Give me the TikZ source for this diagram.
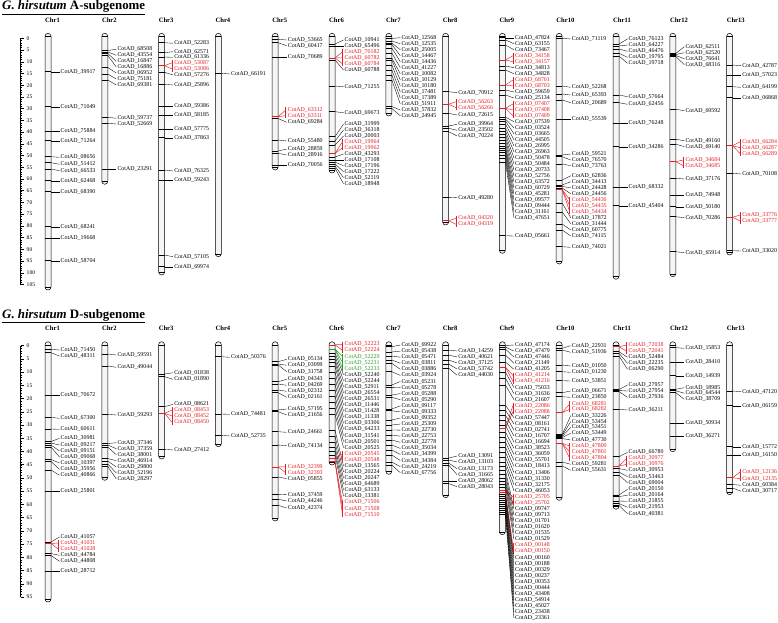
\documentclass[tikz,border=0pt]{standalone}
\usepackage{fontspec}
\setmainfont{Liberation Serif}
\definecolor{rd}{RGB}{228,30,36}
\definecolor{gn}{RGB}{40,160,40}
\tikzset{
 lbl/.style={anchor=west,inner sep=0pt,font=\fontsize{5.9}{6}\selectfont},
 gtick/.style={line width=0.5pt},
 conn/.style={line width=0.35pt},
 barst/.style={draw=black,fill=gray!8,line width=0.5pt,rounded corners=3pt},
 chrlbl/.style={anchor=west,inner sep=0pt,font=\fontsize{6.6}{7}\selectfont\bfseries},
 num/.style={anchor=west,inner sep=0pt,font=\fontsize{5.6}{6}\selectfont},
 ttl/.style={anchor=base west,inner sep=0pt,font=\fontsize{12.9}{15}\selectfont},
}
\newcommand\pfx{A}
% gene: cx, pos, label y, id
\newcommand\gene[4]{%
 \draw[gtick] (#1-3,#2) -- (#1+3,#2);
 \node[lbl] (n\pfx#4) at (#1+12.5,#3) {CotAD\_#4};
 \draw[conn] (#1+3,#2) -- ([xshift=-1pt]n\pfx#4.west);
}
% cluster: cx, pos, colour, first y, last y, list y/id
\newcommand\clus[6]{%
 \draw[gtick,#3] (#1-3,#2) -- (#1+3,#2);
 \draw[#3,line width=0.5pt] (#1+10.5,#4-2.6) -- (#1+10.5,#5+2.6);
 \foreach \ly/\id in {#6} {
   \node[lbl,text=#3] (n\pfx\id) at (#1+12.5,\ly) {CotAD\_\id};
   \draw[#3,line width=0.45pt] (#1+3,#2) -- ([xshift=-2pt]n\pfx\id.west);
 }
}
% chromosome: name, cx, top, bottom, label y
\newcommand\chrom[5]{%
 \draw[barst] (#2-3,#3) rectangle (#2+3,#4);
 \draw[line width=0.4pt] (#2-3,#3+3) -- (#2+3,#3+3);
 \draw[line width=0.4pt] (#2-3,#4-3) -- (#2+3,#4-3);
 \node[chrlbl] (\pfx#1) at (#2-3,#5) {#1};
}
\begin{document}
\begin{tikzpicture}[x=1pt,y=-1pt]
\useasboundingbox (0,0) rectangle (778,622);
\fill[white] (0,0) rectangle (778,622);

%================ A subgenome =================
\renewcommand\pfx{A}
\node[ttl] (titleA) at (2,9.6) {\underline{\textbf{\textit{G. hirsutum}} \textbf{A-subgenome}}};
\draw[line width=0.5pt] (20.5,38.3) -- (20.5,{38.3+2.345*105});
\foreach \v in {0,...,105} {\draw[line width=0.4pt] (20.5,{38.3+2.345*\v}) -- ++(1.7,0);}
\foreach \v in {0,5,...,105} {\draw[line width=0.5pt] (20.5,{38.3+2.345*\v}) -- ++(3.5,0);
  \node[num] (sA\v) at (26.5,{38.3+2.345*\v}) {\v};}

\chrom{Chr1}{48}{33.3}{290}{20.7}
\chrom{Chr2}{104.8}{33.3}{184.3}{20.7}
\chrom{Chr3}{161.6}{33.3}{275}{20.7}
\chrom{Chr4}{218.4}{33.3}{256.7}{20.7}
\chrom{Chr5}{275.2}{33.3}{170}{20.7}
\chrom{Chr6}{332}{33.3}{173}{20.7}
\chrom{Chr7}{388.8}{33.3}{116}{20.7}
\chrom{Chr8}{445.6}{33.3}{225}{20.7}
\chrom{Chr9}{502.4}{33.3}{253.3}{20.7}
\chrom{Chr10}{559.2}{33.3}{264}{20.7}
\chrom{Chr11}{616}{33.3}{279.3}{20.7}
\chrom{Chr12}{672.8}{33.3}{276.7}{20.7}
\chrom{Chr13}{729.6}{33.3}{255}{20.7}

% Chr1
\gene{48}{71.7}{71.7}{39917}
\gene{48}{106.7}{106.7}{71049}
\gene{48}{131}{131}{75884}
\gene{48}{140.7}{140.7}{71264}
\gene{48}{156.7}{157.3}{08656}
\gene{48}{162.7}{164.3}{51412}
\gene{48}{169}{170.7}{66533}
\gene{48}{180.7}{180.7}{62468}
\gene{48}{191.7}{191.7}{68390}
\gene{48}{226.7}{226.7}{68241}
\gene{48}{238.3}{238.3}{19668}
\gene{48}{260.7}{260.7}{58704}
% Chr2
\gene{104.8}{50.5}{49.3}{68508}
\gene{104.8}{52}{55.3}{43554}
\gene{104.8}{53.5}{61.3}{16847}
\gene{104.8}{55.5}{67}{16886}
\gene{104.8}{67.5}{73}{06952}
\gene{104.8}{74}{79}{75181}
\gene{104.8}{80}{85}{69381}
\gene{104.8}{117.3}{118.3}{59737}
\gene{104.8}{123.3}{124}{52669}
\gene{104.8}{169.3}{169.3}{23291}
% Chr3
\gene{161.6}{42.7}{43.3}{52283}
\gene{161.6}{52.7}{51.7}{62571}
\gene{161.6}{57}{57.3}{61336}
\clus{161.6}{65.7}{rd}{62.7}{69}{62.7/53087,69/53086}
\gene{161.6}{72.3}{75}{57276}
\gene{161.6}{84.3}{85}{25896}
\gene{161.6}{106}{106}{59386}
\gene{161.6}{115}{115}{58185}
\gene{161.6}{129.3}{129.3}{57775}
\gene{161.6}{137.7}{137.7}{37863}
\gene{161.6}{170}{171}{76325}
\gene{161.6}{180}{180}{59243}
\gene{161.6}{255}{256.7}{57105}
\gene{161.6}{266.7}{266.7}{69974}
% Chr4
\gene{218.4}{73.3}{74}{66191}
% Chr5
\gene{275.2}{39.3}{40}{53665}
\gene{275.2}{42.7}{45.7}{60417}
\gene{275.2}{57.3}{57.3}{70689}
\clus{275.2}{116.7}{rd}{110}{115.7}{110/63312,115.7/63311}
\gene{275.2}{118.5}{122.3}{69284}
\gene{275.2}{140}{141}{55480}
\gene{275.2}{151}{149}{28859}
\gene{275.2}{153.3}{155}{28916}
\gene{275.2}{165}{165}{70056}
% Chr6
\gene{332}{44}{40}{10941}
\gene{332}{46}{46}{65496}
\clus{332}{58}{rd}{51.7}{63.7}{51.7/70182,57.7/60782,63.7/60784}
\gene{332}{60}{70}{60788}
\gene{332}{86}{86.7}{71255}
\gene{332}{111.7}{112.7}{69673}
\gene{332}{136.7}{124}{31999}
\gene{332}{141}{130}{36318}
\gene{332}{145}{136}{20003}
\clus{332}{153.5}{rd}{141.7}{147.7}{141.7/19964,147.7/19962}
\gene{332}{157}{154}{43293}
\gene{332}{160}{160}{17108}
\gene{332}{162}{165.7}{17196}
\gene{332}{164}{171.7}{17222}
\gene{332}{166}{177.7}{52119}
\gene{332}{168}{183.7}{18948}
% Chr7
\gene{388.8}{38.5}{37.7}{12568}
\gene{388.8}{41}{43.7}{12535}
\gene{388.8}{43}{49.7}{25005}
\gene{388.8}{44.5}{55.7}{14467}
\gene{388.8}{48}{61.7}{14436}
\gene{388.8}{53}{67.7}{41227}
\gene{388.8}{58}{73.7}{10082}
\gene{388.8}{60}{80}{10129}
\gene{388.8}{65}{86}{10180}
\gene{388.8}{70}{92}{17481}
\gene{388.8}{75}{98}{17389}
\gene{388.8}{80}{104}{51911}
\gene{388.8}{106.5}{110}{57832}
\gene{388.8}{108.5}{115.7}{24945}
% Chr8
\gene{445.6}{91.7}{92.7}{70912}
\clus{445.6}{104.3}{rd}{101.7}{107.7}{101.7/56263,107.7/56266}
\gene{445.6}{113.3}{115}{72615}
\gene{445.6}{126}{124.3}{39964}
\gene{445.6}{128.3}{130.3}{23502}
\gene{445.6}{131.7}{136}{70224}
\gene{445.6}{197.3}{197.7}{49280}
\clus{445.6}{220.7}{rd}{218.3}{224.3}{218.3/04320,224.3/04319}
% Chr9
\gene{502.4}{37.7}{37.7}{47824}
\gene{502.4}{40}{43.7}{63155}
\gene{502.4}{45}{49.7}{73467}
\clus{502.4}{60}{rd}{55.7}{61.7}{55.7/34158,61.7/34157}
\gene{502.4}{66}{67.7}{34813}
\gene{502.4}{70}{73.7}{34828}
\clus{502.4}{85}{rd}{80}{86}{80/68701,86/68703}
\gene{502.4}{90}{92}{59659}
\gene{502.4}{95}{98}{25134}
\clus{502.4}{108.3}{rd}{104}{115.7}{104/07407,110/07408,115.7/07409}
\gene{502.4}{117}{121.7}{07539}
\gene{502.4}{119}{127.7}{03524}
\gene{502.4}{121}{133.7}{03665}
\gene{502.4}{124}{139.7}{44505}
\gene{502.4}{128}{145.7}{26995}
\gene{502.4}{131}{151.7}{26963}
\gene{502.4}{134}{157.7}{50478}
\gene{502.4}{137}{163.7}{50484}
\gene{502.4}{140}{169.7}{20733}
\gene{502.4}{143}{175.7}{52756}
\gene{502.4}{146}{181.7}{63572}
\gene{502.4}{148}{187.7}{60729}
\gene{502.4}{150}{193.7}{45281}
\gene{502.4}{152}{199.7}{09577}
\gene{502.4}{155}{205.7}{09444}
\gene{502.4}{158}{211.7}{31161}
\gene{502.4}{162}{217.7}{47651}
\gene{502.4}{235.7}{236}{05661}
% Chr10
\gene{559.2}{38.3}{39}{71119}
\gene{559.2}{86}{87.3}{52268}
\gene{559.2}{94}{95}{65393}
\gene{559.2}{100}{102.7}{20689}
\gene{559.2}{119.3}{119.3}{55539}
\gene{559.2}{155}{154}{59521}
\gene{559.2}{156.7}{160}{76570}
\gene{559.2}{164}{165.7}{73763}
\gene{559.2}{180}{175.7}{62836}
\gene{559.2}{185}{181.7}{34413}
\gene{559.2}{186.5}{187.7}{24428}
\gene{559.2}{188}{193.7}{24456}
\clus{559.2}{189.5}{rd}{199.7}{211.7}{199.7/54436,205.7/54435,211.7/54434}
\gene{559.2}{203}{217.7}{17872}
\gene{559.2}{212}{223.7}{31444}
\gene{559.2}{224}{230}{60775}
\gene{559.2}{230}{236}{74115}
\gene{559.2}{246.7}{247.3}{74021}
% Chr11
\gene{616}{44}{39}{76123}
\gene{616}{46}{45}{64227}
\gene{616}{49}{51.3}{46476}
\gene{616}{53.3}{57.3}{19795}
\gene{616}{56}{63.3}{19718}
\gene{616}{95}{96.7}{57664}
\gene{616}{102.7}{104.3}{62456}
\gene{616}{123.3}{123.3}{76248}
\gene{616}{146.7}{146.7}{34286}
\gene{616}{187.3}{187.3}{68332}
\gene{616}{205.7}{205.7}{45404}
% Chr12
\gene{672.8}{53.5}{46.7}{62511}
\gene{672.8}{54.5}{52.7}{62520}
\gene{672.8}{55.5}{58.7}{76641}
\gene{672.8}{56.5}{64.7}{68316}
\gene{672.8}{109.3}{110.7}{69592}
\gene{672.8}{139.3}{140.7}{49160}
\gene{672.8}{144}{146.7}{69140}
\clus{672.8}{161.7}{rd}{160}{165.7}{160/34684,165.7/34685}
\gene{672.8}{178.3}{179}{37176}
\gene{672.8}{195}{195}{74948}
\gene{672.8}{206.7}{206.7}{50180}
\gene{672.8}{216.7}{217.7}{70286}
\gene{672.8}{251.7}{252.7}{65914}
% Chr13
\gene{729.6}{65}{65.7}{42787}
\gene{729.6}{75}{75}{57023}
\gene{729.6}{86.7}{87.3}{64199}
\gene{729.6}{97.7}{97.7}{06868}
\clus{729.6}{145.7}{rd}{141.7}{153.7}{141.7/66284,147.7/66287,153.7/66289}
\gene{729.6}{173.3}{174}{70108}
\clus{729.6}{217.3}{rd}{215}{221}{215/33776,221/33777}
\gene{729.6}{250.7}{251}{33020}

%================ D subgenome =================
\renewcommand\pfx{D}
\node[ttl] (titleD) at (2,318) {\underline{\textbf{\textit{G. hirsutum}} \textbf{D-subgenome}}};
\draw[line width=0.5pt] (20.5,345.7) -- (20.5,{345.7+2.645*95});
\foreach \v in {0,...,95} {\draw[line width=0.4pt] (20.5,{345.7+2.645*\v}) -- ++(1.7,0);}
\foreach \v in {0,5,...,95} {\draw[line width=0.5pt] (20.5,{345.7+2.645*\v}) -- ++(3.5,0);
  \node[num] (sD\v) at (26.5,{345.7+2.645*\v}) {\v};}

\chrom{Chr1}{48}{341.7}{602}{328.3}
\chrom{Chr2}{104.8}{341.7}{480.3}{328.3}
\chrom{Chr3}{161.6}{341.7}{459}{328.3}
\chrom{Chr4}{218.4}{341.7}{446.7}{328.3}
\chrom{Chr5}{275.2}{341.7}{521}{328.3}
\chrom{Chr6}{332}{341.7}{465}{328.3}
\chrom{Chr7}{388.8}{341.7}{474.3}{328.3}
\chrom{Chr8}{445.6}{341.7}{497.7}{328.3}
\chrom{Chr9}{502.4}{341.7}{534.7}{328.3}
\chrom{Chr10}{559.2}{341.7}{500.3}{328.3}
\chrom{Chr11}{616}{341.7}{509.3}{328.3}
\chrom{Chr12}{672.8}{341.7}{451.7}{328.3}
\chrom{Chr13}{729.6}{341.7}{494.7}{328.3}

% Chr1
\gene{48}{349.3}{350}{71450}
\gene{48}{352.7}{356}{48311}
\gene{48}{395}{395}{70672}
\gene{48}{417.3}{418.3}{67300}
\gene{48}{429}{429.3}{60611}
\gene{48}{441.5}{438.3}{30981}
\gene{48}{443}{445}{09217}
\gene{48}{445}{451}{09151}
\gene{48}{447}{457}{09068}
\gene{48}{459.5}{463}{10397}
\gene{48}{461.5}{469.3}{35956}
\gene{48}{470}{475.3}{40866}
\gene{48}{491.3}{491.3}{25801}
\gene{48}{542}{537}{41057}
\clus{48}{543.5}{rd}{543}{549.3}{543/41031,549.3/41028}
\gene{48}{553.5}{555.3}{44784}
\gene{48}{555.5}{561.3}{44808}
\gene{48}{571}{571}{28712}
% Chr2
\gene{104.8}{354}{355}{59591}
\gene{104.8}{366}{367.3}{49044}
\gene{104.8}{414.3}{415}{59293}
\gene{104.8}{443.5}{442.7}{37346}
\gene{104.8}{445}{448.7}{37359}
\gene{104.8}{447}{454.7}{38001}
\gene{104.8}{458.5}{460.7}{46914}
\gene{104.8}{461}{467}{29800}
\gene{104.8}{464}{473}{52196}
\gene{104.8}{466.5}{479}{28297}
% Chr3
\gene{161.6}{374}{372.7}{01838}
\gene{161.6}{376.7}{379.3}{01890}
\gene{161.6}{406.7}{404.3}{08621}
\clus{161.6}{413.3}{rd}{410}{422.3}{410/08453,416/08452,422.3/08450}
\gene{161.6}{449.3}{450}{27412}
% Chr4
\gene{218.4}{356.7}{357.3}{50376}
\gene{218.4}{414}{414.3}{74481}
\gene{218.4}{435.3}{436}{52735}
% Chr5
\gene{275.2}{361.7}{359.3}{05134}
\gene{275.2}{364}{365.3}{03099}
\gene{275.2}{365}{371.7}{31758}
\gene{275.2}{381.7}{379.3}{04343}
\gene{275.2}{384}{385.3}{04269}
\gene{275.2}{390}{391.3}{02312}
\gene{275.2}{392.7}{397.3}{02161}
\gene{275.2}{410}{409}{57195}
\gene{275.2}{411.7}{415}{21656}
\gene{275.2}{431.7}{432.3}{24661}
\gene{275.2}{445}{445.7}{74134}
\clus{275.2}{467}{rd}{466.7}{472.7}{466.7/32399,472.7/32393}
\gene{275.2}{477}{478.7}{05855}
\gene{275.2}{494.3}{494.7}{37459}
\gene{275.2}{499.3}{501}{44246}
\gene{275.2}{505.3}{508}{42374}
% Chr6
\clus{332}{344.8}{rd}{344.3}{350.4}{344.3/52223,350.4/52224}
\clus{332}{349}{gn}{356.5}{368.6}{356.5/52229,362.5/52231,368.6/52233}
\gene{332}{353}{374.7}{52240}
\gene{332}{356}{380.8}{52244}
\gene{332}{359}{386.9}{52911}
\gene{332}{362}{392.9}{26554}
\gene{332}{366}{399.0}{26531}
\gene{332}{372}{405.1}{11446}
\gene{332}{378}{411.2}{11428}
\gene{332}{384}{417.3}{11338}
\gene{332}{390}{423.3}{03306}
\gene{332}{396}{429.4}{64233}
\gene{332}{402}{435.5}{31541}
\gene{332}{408}{441.6}{20501}
\gene{332}{414}{447.7}{20525}
\gene{332}{430}{465.9}{13565}
\gene{332}{436}{472.0}{20224}
\gene{332}{442}{478.1}{20247}
\gene{332}{447}{484.1}{64689}
\gene{332}{451}{490.2}{63133}
\gene{332}{455}{496.3}{13381}
\clus{332}{458}{rd}{453.7}{459.8}{453.7/20545,459.8/20548}
\clus{332}{461.5}{rd}{502.4}{514.6}{502.4/71506,508.5/71508,514.6/71510}
% Chr7
\gene{388.8}{346.7}{345.0}{69922}
\gene{388.8}{352}{351.1}{05438}
\gene{388.8}{356}{357.2}{05471}
\gene{388.8}{360}{363.2}{03811}
\gene{388.8}{363.3}{369.3}{03886}
\gene{388.8}{371.7}{375.4}{03924}
\gene{388.8}{385}{381.5}{05231}
\gene{388.8}{387.3}{387.6}{05278}
\gene{388.8}{395}{393.6}{05288}
\gene{388.8}{397.3}{399.7}{05290}
\gene{388.8}{409}{405.8}{09117}
\gene{388.8}{410.7}{411.9}{09333}
\gene{388.8}{420}{418.0}{09352}
\gene{388.8}{425}{424.0}{25309}
\gene{388.8}{430}{430.1}{22730}
\gene{388.8}{435}{436.2}{22753}
\gene{388.8}{440}{442.3}{22778}
\gene{388.8}{445}{448.4}{35034}
\gene{388.8}{450}{454.4}{34399}
\gene{388.8}{455}{460.5}{34384}
\gene{388.8}{462}{466.6}{24219}
\gene{388.8}{465}{472.7}{67756}
% Chr8
\gene{445.6}{350}{351}{14259}
\gene{445.6}{355}{357}{40621}
\gene{445.6}{360}{363}{37125}
\gene{445.6}{364}{369}{53742}
\gene{445.6}{368}{375.3}{44030}
\gene{445.6}{458}{456}{13091}
\gene{445.6}{460}{462}{13103}
\gene{445.6}{463}{468.7}{13173}
\gene{445.6}{465}{474.7}{31665}
\gene{445.6}{481}{481}{28062}
\gene{445.6}{483.5}{486.7}{28043}
% Chr9
\gene{502.4}{345.5}{345.0}{47174}
\gene{502.4}{347}{351.1}{47479}
\gene{502.4}{349}{357.1}{47446}
\gene{502.4}{355}{363.2}{21149}
\gene{502.4}{362}{369.3}{41205}
\clus{502.4}{367}{rd}{375.4}{381.4}{375.4/41214,381.4/41216}
\gene{502.4}{372}{387.5}{75033}
\gene{502.4}{378}{393.6}{31636}
\gene{502.4}{385}{399.6}{21607}
\clus{502.4}{428}{rd}{405.7}{411.8}{405.7/22086,411.8/22088}
\gene{502.4}{405}{417.8}{57447}
\gene{502.4}{410}{423.9}{08161}
\gene{502.4}{415}{430.0}{02741}
\gene{502.4}{420}{436.1}{16707}
\gene{502.4}{425}{442.1}{16694}
\gene{502.4}{432}{448.2}{38523}
\gene{502.4}{437}{454.3}{36059}
\gene{502.4}{442}{460.3}{55701}
\gene{502.4}{447}{466.4}{18413}
\gene{502.4}{452}{472.5}{13406}
\gene{502.4}{457}{478.5}{31330}
\gene{502.4}{462}{484.6}{32175}
\gene{502.4}{466}{490.7}{46053}
\clus{502.4}{490}{rd}{496.8}{502.8}{496.8/25705,502.8/25702}
\gene{502.4}{470}{508.9}{09747}
\gene{502.4}{474}{515.0}{09713}
\gene{502.4}{478}{521.0}{01701}
\gene{502.4}{481}{527.1}{01620}
\gene{502.4}{484}{533.2}{01535}
\gene{502.4}{487}{539.2}{01529}
\clus{502.4}{492}{rd}{545.3}{551.4}{545.3/00148,551.4/00150}
\gene{502.4}{494}{557.5}{00160}
\gene{502.4}{496}{563.5}{00188}
\gene{502.4}{498}{569.6}{00329}
\gene{502.4}{500}{575.7}{00237}
\gene{502.4}{502}{581.7}{00353}
\gene{502.4}{504}{587.8}{00444}
\gene{502.4}{506}{593.9}{43408}
\gene{502.4}{508}{599.9}{54914}
\gene{502.4}{510}{606.0}{45027}
\gene{502.4}{512}{612.1}{23438}
\gene{502.4}{514}{618.2}{23361}
% Chr10
\gene{559.2}{348.3}{345.7}{22931}
\gene{559.2}{350}{352.3}{51936}
\gene{559.2}{365}{366}{01050}
\gene{559.2}{371.7}{372.3}{01230}
\gene{559.2}{380.7}{381}{53851}
\gene{559.2}{392.7}{391}{06671}
\gene{559.2}{396.7}{397.3}{23850}
\clus{559.2}{412.7}{rd}{404}{409.3}{404/68281,409.3/68282}
\gene{559.2}{434.5}{415.7}{33226}
\gene{559.2}{435.5}{421.7}{53454}
\gene{559.2}{436.5}{427.3}{53451}
\gene{559.2}{437.5}{433.3}{53449}
\gene{559.2}{438.5}{440}{47730}
\clus{559.2}{443.3}{rd}{446}{458.3}{446/47800,452/47801,458.3/47804}
\gene{559.2}{462}{464.3}{59281}
\gene{559.2}{466}{470.3}{55631}
% Chr11
\clus{616}{346.7}{rd}{345}{351}{345/72038,351/72041}
\gene{616}{351.7}{357.3}{52484}
\gene{616}{353.3}{363.3}{22235}
\gene{616}{356}{369.3}{06290}
\gene{616}{389.5}{385}{27957}
\gene{616}{390.5}{391}{27954}
\gene{616}{391.5}{397.3}{27936}
\gene{616}{409.3}{410}{36211}
\gene{616}{456.7}{452.3}{66780}
\clus{616}{466}{rd}{458.3}{464.3}{458.3/30977,464.3/30976}
\gene{616}{468.5}{470.3}{30953}
\gene{616}{472}{476.7}{53463}
\gene{616}{475}{482.7}{69004}
\gene{616}{495}{489.3}{20150}
\gene{616}{496.5}{495.3}{20164}
\gene{616}{501}{501.3}{21855}
\gene{616}{503.5}{507.3}{21953}
\gene{616}{505.5}{513.7}{40381}
% Chr12
\gene{672.8}{347.7}{348.3}{15853}
\gene{672.8}{362.3}{362.3}{28410}
\gene{672.8}{375.7}{375.7}{14939}
\gene{672.8}{389.3}{387.7}{18985}
\gene{672.8}{390.7}{393.3}{64544}
\gene{672.8}{392.7}{399.3}{38709}
\gene{672.8}{423.3}{423.3}{50934}
\gene{672.8}{436}{436}{36271}
% Chr13
\gene{729.6}{391}{391.7}{47120}
\gene{729.6}{405.7}{405.7}{06159}
\gene{729.6}{446.7}{446.7}{15772}
\gene{729.6}{455}{455}{16150}
\clus{729.6}{477.7}{rd}{472}{478.7}{472/12136,478.7/12135}
\gene{729.6}{484.5}{485.3}{60384}
\gene{729.6}{488}{491.3}{30717}
\end{tikzpicture}
\end{document}
